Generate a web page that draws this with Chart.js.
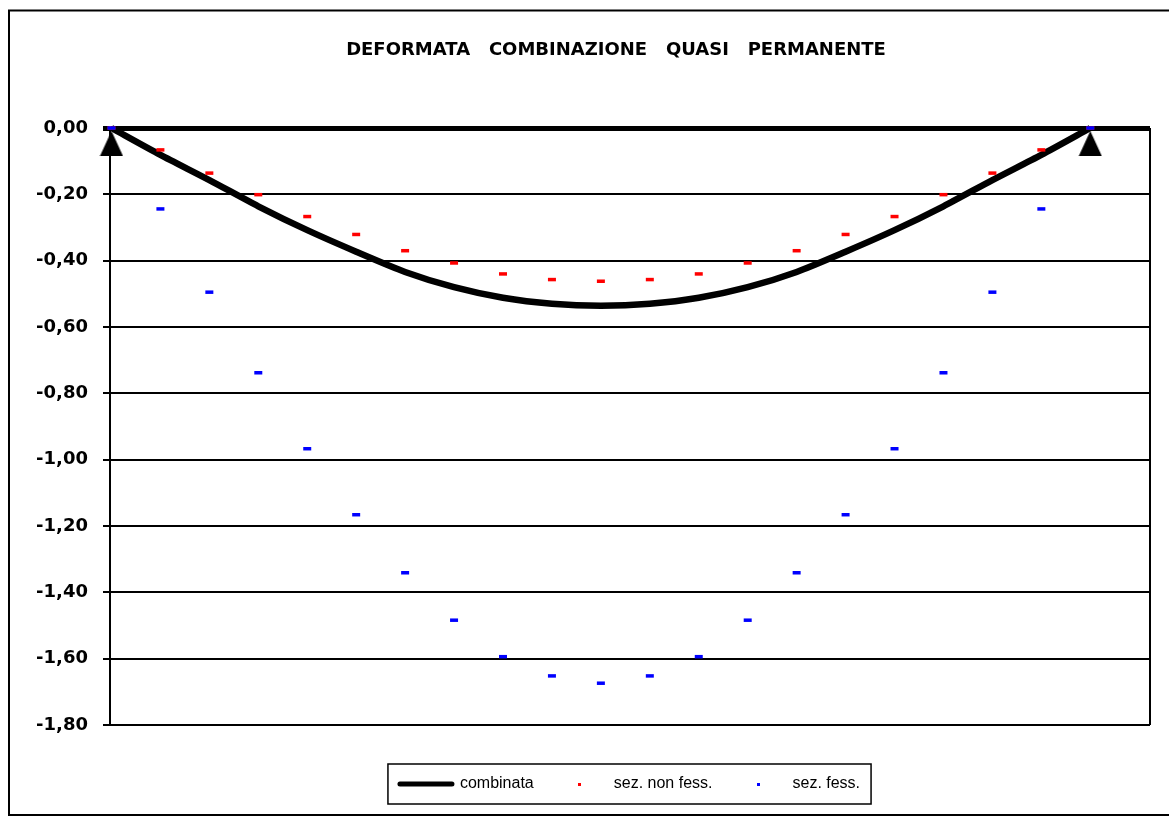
<!DOCTYPE html>
<html>
<head>
<meta charset="utf-8">
<title>Deformata combinazione quasi permanente</title>
<script src="https://cdn.jsdelivr.net/npm/chart.js@4"></script>
<style>
  html, body { margin: 0; padding: 0; background: #fff; }
  #box { position: relative; width: 1169px; height: 817px; }
</style>
</head>
<body>
<div id="box"><canvas id="myChart"></canvas></div>
<script>
// sections along the beam (x-axis)
let sez = [0, 1, 2, 3, 4, 5, 6, 7, 8, 9, 10, 11, 12, 13, 14, 15, 16, 17, 18, 19, 20]

// deflection, combined (thick black line)
let combinata = [0, -0.081, -0.157, -0.236, -0.308, -0.373, -0.434, -0.480, -0.512, -0.530, -0.536,
  -0.530, -0.512, -0.480, -0.434, -0.373, -0.308, -0.236, -0.157, -0.081, 0]

// deflection, uncracked section (red)
let nonFess = [0, -0.066, -0.136, -0.201, -0.267, -0.321, -0.370, -0.407, -0.440, -0.457, -0.462,
  -0.457, -0.440, -0.407, -0.370, -0.321, -0.267, -0.201, -0.136, -0.066, 0]

// deflection, cracked section (blue)
let fess = [0, -0.244, -0.495, -0.738, -0.967, -1.166, -1.341, -1.484, -1.594, -1.652, -1.674,
  -1.652, -1.594, -1.484, -1.341, -1.166, -0.967, -0.738, -0.495, -0.244, 0]

// supports at both ends of the beam
let appoggiX = [0, 20]
let appoggiY = [0, 0]

let titolo = 'DEFORMATA   COMBINAZIONE   QUASI   PERMANENTE'

// small canvases used as point styles
function triangle() {
  let c = document.createElement('canvas')
  c.width = 24
  c.height = 56
  let g = c.getContext('2d')
  g.fillStyle = '#000'
  g.beginPath()
  g.moveTo(12, 31)
  g.lineTo(23.5, 56)
  g.lineTo(0.5, 56)
  g.closePath()
  g.fill()
  return c
}

function dot(color) {
  let c = document.createElement('canvas')
  c.width = 3
  c.height = 3
  let g = c.getContext('2d')
  g.fillStyle = color
  g.fillRect(0, 0, 3, 3)
  return c
}

function pts(xs, ys) {
  return xs.map((x, i) => ({ x: x, y: ys[i] }))
}

// outer frame, right border of the plot, title and box round the legend
const extras = {
  id: 'extras',
  beforeDatasetsDraw(chart) {
    let ctx = chart.ctx, a = chart.chartArea
    ctx.save()
    ctx.strokeStyle = '#000'
    ctx.lineWidth = 2
    ctx.beginPath()
    ctx.moveTo(a.right, a.top)
    ctx.lineTo(a.right, a.bottom)
    ctx.stroke()
    ctx.restore()
  },
  afterDraw(chart) {
    let ctx = chart.ctx
    ctx.save()
    ctx.strokeStyle = '#000'
    ctx.lineWidth = 2
    ctx.strokeRect(9, 10.5, 1200, 804.5)

    ctx.fillStyle = '#000'
    ctx.font = 'bold 18px "DejaVu Sans"'
    ctx.textAlign = 'center'
    ctx.textBaseline = 'middle'
    ctx.fillText(titolo, 616, 50)

    let hb = chart.legend.legendHitBoxes
    if (hb && hb.length) {
      let first = hb[0], last = hb[hb.length - 1]
      let cy = first.top + first.height / 2
      ctx.lineWidth = 1.5
      ctx.strokeRect(first.left - 12, cy - 20, last.left + last.width + 23 - first.left, 40)
    }
    ctx.restore()
  }
}

function plotData() {
  let ctx = document.getElementById('myChart').getContext('2d')
  let dotRed = dot('#ff0000'), dotBlue = dot('#0000ff')

  new Chart(ctx, {
    type: 'line',
    data: {
      datasets: [{
        label: 'sez. fess.',
        data: pts(sez, fess),
        showLine: false,
        pointStyle: 'line',
        pointRadius: 4,
        pointBorderWidth: 3.5,
        pointBorderColor: '#0000ff',
        pointBackgroundColor: '#0000ff',
        borderColor: '#0000ff',
        clip: false
      }, {
        label: 'sez. non fess.',
        data: pts(sez, nonFess),
        showLine: false,
        pointStyle: 'line',
        pointRadius: 4,
        pointBorderWidth: 3.5,
        pointBorderColor: '#ff0000',
        pointBackgroundColor: '#ff0000',
        borderColor: '#ff0000',
        clip: false
      }, {
        label: 'combinata',
        data: pts(sez, combinata),
        borderColor: '#000',
        backgroundColor: '#000',
        borderWidth: 6.5,
        pointRadius: 0,
        tension: 0.25,
        clip: false
      }, {
        label: 'appoggi',
        data: pts(appoggiX, appoggiY),
        showLine: false,
        pointStyle: triangle(),
        clip: false
      }]
    },
    options: {
      responsive: true,
      maintainAspectRatio: false,
      animation: false,
      events: [],
      layout: { padding: { left: 9, right: 19, top: 128, bottom: 15 } },
      scales: {
        x: {
          type: 'linear',
          min: -0.03,
          max: 21.22,
          ticks: { display: false },
          grid: { display: true, drawOnChartArea: false, color: 'rgba(0,0,0,0)', tickLength: 31 },
          border: { display: false }
        },
        y: {
          min: -1.8,
          max: 0,
          afterFit: s => { s.width = 101 },
          ticks: {
            stepSize: 0.2,
            color: '#000',
            padding: 15,
            font: { family: 'DejaVu Sans', weight: 'bold', size: 18 },
            callback: v => (Math.abs(v) < 1e-9 ? 0 : v).toFixed(2).replace('.', ',')
          },
          grid: {
            color: '#000',
            lineWidth: c => (c.tick && Math.abs(c.tick.value) < 1e-9 ? 5 : 2),
            tickLength: 7
          },
          border: { display: true, color: '#000', width: 2 }
        }
      },
      plugins: {
        title: { display: false },
        tooltip: { enabled: false },
        legend: {
          position: 'bottom',
          fullSize: false,
          labels: {
            usePointStyle: true,
            pointStyleWidth: 52,
            padding: 20,
            color: '#000',
            font: { family: 'Liberation Sans', size: 16 },
            filter: item => item.text !== 'appoggi',
            sort: (a, b) => b.datasetIndex - a.datasetIndex,
            generateLabels(chart) {
              let items = Chart.defaults.plugins.legend.labels.generateLabels(chart)
              items.forEach(it => {
                if (it.text === 'combinata') {
                  it.pointStyle = 'line'
                  it.lineWidth = 5
                  it.lineCap = 'round'
                  it.strokeStyle = '#000'
                } else if (it.text === 'sez. non fess.') {
                  it.pointStyle = dotRed
                } else if (it.text === 'sez. fess.') {
                  it.pointStyle = dotBlue
                }
              })
              return items
            }
          }
        }
      }
    },
    plugins: [extras]
  })
}

plotData()
</script>
</body>
</html>
